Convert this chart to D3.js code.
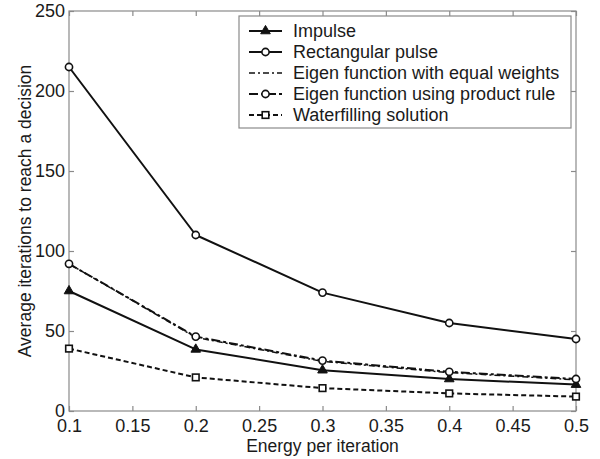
<!DOCTYPE html>
<html>
<head>
<meta charset="utf-8">
<script src="https://cdn.jsdelivr.net/npm/d3@7"></script>
<style>
  html, body { margin: 0; padding: 0; background: #fff; }
  svg { display: block; font-family: "Liberation Sans", Arial, Helvetica, sans-serif; }
</style>
</head>
<body>
<svg id="chart" width="600" height="459"></svg>
<script>
// Energy levels on the x axis
const energy = [0.1, 0.2, 0.3, 0.4, 0.5];

// Average iterations needed for each signalling scheme
const impulse      = [75, 38.5, 25.5, 20, 16.5];
const rectangular  = [215, 110, 74, 55, 45];
const eigenEqual   = [92, 46, 31, 24, 19.5];
const eigenProduct = [92, 46.5, 31.5, 24.5, 20];
const waterfilling = [39, 21, 14.3, 11, 9];

const xTicks = [0.1, 0.15, 0.2, 0.25, 0.3, 0.35, 0.4, 0.45, 0.5];
const yTicks = [0, 50, 100, 150, 200, 250];

const seriesNames = [
  "Impulse",
  "Rectangular pulse",
  "Eigen function with equal weights",
  "Eigen function using product rule",
  "Waterfilling solution"
];

const series = [
  { name: seriesNames[0], values: impulse,      dash: null,          width: 2,   marker: "triangle" },
  { name: seriesNames[1], values: rectangular,  dash: null,          width: 2,   marker: "circle" },
  { name: seriesNames[2], values: eigenEqual,   dash: "6,3,2,3",     width: 1.5, marker: null },
  { name: seriesNames[3], values: eigenProduct, dash: "9,3,3,3",     width: 2,   marker: "circle" },
  { name: seriesNames[4], values: waterfilling, dash: "5,3",         width: 2,   marker: "square" }
];

const svg = d3.select("#chart");
const plotLeft = 69, plotRight = 576, plotTop = 11, plotBottom = 411;

const x = d3.scaleLinear().domain([0.1, 0.5]).range([plotLeft, plotRight]);
const y = d3.scaleLinear().domain([0, 250]).range([plotBottom, plotTop]);

const axisColor = "#8a8a8a";
const textColor = "#1a1a1a";

// Plot frame
svg.append("rect")
  .attr("x", plotLeft).attr("y", plotTop)
  .attr("width", plotRight - plotLeft).attr("height", plotBottom - plotTop)
  .attr("fill", "none").attr("stroke", axisColor).attr("stroke-width", 1.2);

function styleAxis(g, labels) {
  g.select(".domain").remove();
  g.selectAll(".tick line").attr("stroke", axisColor).attr("stroke-width", 1.2);
  if (labels) {
    g.selectAll(".tick text").attr("fill", textColor).attr("font-size", 18)
      .attr("font-family", "Liberation Sans, Arial, sans-serif");
  } else {
    g.selectAll(".tick text").remove();
  }
}

// Inward ticks on all four sides
svg.append("g").attr("transform", `translate(0,${plotBottom})`)
  .call(d3.axisBottom(x).tickValues(xTicks).tickSize(-5).tickPadding(8)
    .tickFormat(d => String(+d.toFixed(2))))
  .call(g => styleAxis(g, true));
svg.append("g").attr("transform", `translate(0,${plotTop})`)
  .call(d3.axisTop(x).tickValues(xTicks).tickSize(-5))
  .call(g => styleAxis(g, false));
svg.append("g").attr("transform", `translate(${plotLeft},0)`)
  .call(d3.axisLeft(y).tickValues(yTicks).tickSize(-5).tickPadding(4))
  .call(g => styleAxis(g, true));
svg.append("g").attr("transform", `translate(${plotRight},0)`)
  .call(d3.axisRight(y).tickValues(yTicks).tickSize(-5))
  .call(g => styleAxis(g, false));

// Axis titles
svg.append("text")
  .attr("x", (plotLeft + plotRight) / 2).attr("y", 452)
  .attr("text-anchor", "middle").attr("font-size", 17.5).attr("fill", textColor)
  .text("Energy per iteration");
svg.append("text")
  .attr("transform", `translate(31,${(plotTop + plotBottom) / 2}) rotate(-90)`)
  .attr("text-anchor", "middle").attr("font-size", 17.5).attr("fill", textColor)
  .text("Average iterations to reach a decision");

const line = d3.line().x((d, i) => x(energy[i])).y(d => y(d));

function drawMarker(g, type, cx, cy) {
  if (type === "circle") {
    g.append("circle").attr("cx", cx).attr("cy", cy).attr("r", 3.6)
      .attr("fill", "#fff").attr("stroke", "#111").attr("stroke-width", 1.6);
  } else if (type === "triangle") {
    g.append("path")
      .attr("d", d3.symbol().type(d3.symbolTriangle).size(40)())
      .attr("transform", `translate(${cx},${cy})`)
      .attr("fill", "#111").attr("stroke", "#111").attr("stroke-width", 1);
  } else if (type === "square") {
    g.append("rect").attr("x", cx - 3.3).attr("y", cy - 3.3)
      .attr("width", 6.6).attr("height", 6.6)
      .attr("fill", "#fff").attr("stroke", "#111").attr("stroke-width", 1.6);
  }
}

// Series lines and markers
const plot = svg.append("g");
series.forEach(s => {
  plot.append("path")
    .datum(s.values)
    .attr("d", line)
    .attr("fill", "none")
    .attr("stroke", "#111")
    .attr("stroke-width", s.width)
    .attr("stroke-dasharray", s.dash)
    .attr("stroke-linejoin", "round");
});
series.forEach(s => {
  if (!s.marker) return;
  s.values.forEach((v, i) => drawMarker(plot, s.marker, x(energy[i]), y(v)));
});

// Legend
const legend = svg.append("g");
legend.append("rect")
  .attr("x", 239).attr("y", 16).attr("width", 332).attr("height", 112)
  .attr("fill", "#fff").attr("stroke", axisColor).attr("stroke-width", 1.2);
series.forEach((s, i) => {
  const cy = 31 + i * 21;
  legend.append("line")
    .attr("x1", 249).attr("x2", 282).attr("y1", cy).attr("y2", cy)
    .attr("stroke", "#111").attr("stroke-width", s.width)
    .attr("stroke-dasharray", s.dash);
  if (s.marker) drawMarker(legend, s.marker, 265.5, cy);
  legend.append("text")
    .attr("x", 293).attr("y", cy + 6.3)
    .attr("font-size", 18).attr("fill", textColor)
    .text(s.name);
});
</script>
</body>
</html>
